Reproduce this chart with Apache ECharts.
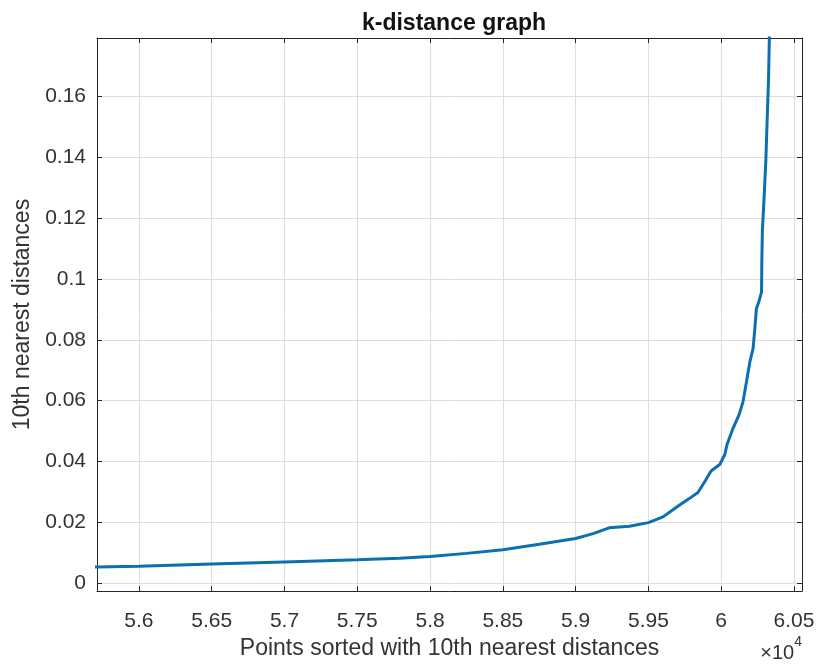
<!DOCTYPE html>
<html>
<head>
<meta charset="utf-8">
<script src="https://cdn.jsdelivr.net/npm/echarts@6/dist/echarts.min.js"></script>
<style>
  html, body { margin: 0; padding: 0; background: #fff; }
  #main { width: 818px; height: 665px; }
</style>
</head>
<body>
<div id="main"></div>
<script>
// points index (x 10^4) and the 10th nearest distance
var pointIdx = [5.560, 5.571, 5.600, 5.650, 5.700, 5.750, 5.779, 5.800, 5.825, 5.850,
                5.875, 5.900, 5.912, 5.923, 5.937, 5.950, 5.960, 5.969, 5.978, 5.984,
                5.989, 5.993, 5.999, 6.0025, 6.0040, 6.0082, 6.0123, 6.0150, 6.0174, 6.0197,
                6.0219, 6.0231, 6.0242, 6.0258, 6.0277, 6.0279, 6.0283, 6.0293, 6.0306, 6.0315,
                6.0325, 6.0331, 6.0335];
var kDist = [0.0052, 0.0053, 0.0056, 0.0063, 0.0070, 0.0077, 0.0082, 0.0088, 0.0098, 0.0110,
             0.0128, 0.0147, 0.0163, 0.0182, 0.0187, 0.0199, 0.0218, 0.0249, 0.0278, 0.0298,
             0.0336, 0.0369, 0.0390, 0.0423, 0.0456, 0.0510, 0.0554, 0.0597, 0.0663, 0.0728,
             0.0772, 0.0837, 0.0903, 0.0924, 0.0957, 0.1055, 0.1164, 0.1251, 0.1382, 0.1513,
             0.1655, 0.1800, 0.2200];
var xTicks = [5.6, 5.65, 5.7, 5.75, 5.8, 5.85, 5.9, 5.95, 6, 6.05];
var yTicks = [0, 0.02, 0.04, 0.06, 0.08, 0.1, 0.12, 0.14, 0.16];

var myChart = echarts.init(document.getElementById('main'));

var data = pointIdx.map(function (x, i) { return [x, kDist[i]]; });
var font = 'Liberation Sans, Arial, Helvetica, sans-serif';
var axisColor = '#262626';
var fmt = function (v) { return String(+(+v).toFixed(2)); };

function boxAxis(pos, ticks, showLabel) {
    return {
        type: 'value',
        position: pos,
        axisLine: { show: true, onZero: false, lineStyle: { color: axisColor, width: 1 } },
        axisTick: { show: true, inside: true, length: 5, customValues: ticks,
                    lineStyle: { color: axisColor, width: 1 } },
        axisLabel: { show: showLabel, customValues: ticks, formatter: fmt,
                     color: '#333', fontFamily: font, fontSize: 21 },
        splitLine: { show: false }
    };
}

var xMain = boxAxis('bottom', xTicks, true);
xMain.min = 5.5712; xMain.max = 6.0555;
xMain.axisLabel.margin = 20;
xMain.splitLine = { show: true, lineStyle: { color: '#dedede', width: 1 } };
xMain.name = 'Points sorted with 10th nearest distances';
xMain.nameLocation = 'middle';
xMain.nameGap = 43;
xMain.nameTextStyle = { color: '#333', fontFamily: font, fontSize: 23 };

var xTop = boxAxis('top', xTicks, false);
xTop.min = 5.5712; xTop.max = 6.0555;

var yMain = boxAxis('left', yTicks, true);
yMain.min = -0.0026; yMain.max = 0.1792;
yMain.axisLabel.margin = 11;
yMain.splitLine = { show: true, lineStyle: { color: '#dedede', width: 1 } };
yMain.name = '10th nearest distances';
yMain.nameLocation = 'middle';
yMain.nameGap = 62;
yMain.nameTextStyle = { color: '#333', fontFamily: font, fontSize: 23 };

var yRight = boxAxis('right', yTicks, false);
yRight.min = -0.0026; yRight.max = 0.1792;

option = {
    backgroundColor: '#fff',
    animation: false,
    title: {
        text: 'k-distance graph',
        left: 449, top: 7, textAlign: 'center',
        textStyle: { color: '#111', fontFamily: font, fontWeight: 'bold', fontSize: 23 }
    },
    grid: { left: 97, right: 16, top: 38, bottom: 71, containLabel: false },
    xAxis: [xMain, xTop],
    yAxis: [yMain, yRight],
    graphic: [{
        type: 'text', right: 16, top: 635,
        style: {
            text: '{m|×10}{s|4}',
            rich: {
                m: { fontFamily: font, fontSize: 20, fill: '#333', padding: [8, 0, 0, 0] },
                s: { fontFamily: font, fontSize: 14, fill: '#333', verticalAlign: 'top' }
            }
        }
    }],
    series: [{
        type: 'line',
        xAxisIndex: 0, yAxisIndex: 0,
        data: data,
        showSymbol: false,
        clip: true,
        lineStyle: { color: '#0b6fb0', width: 3 }
    }]
};

myChart.setOption(option);
</script>
</body>
</html>
